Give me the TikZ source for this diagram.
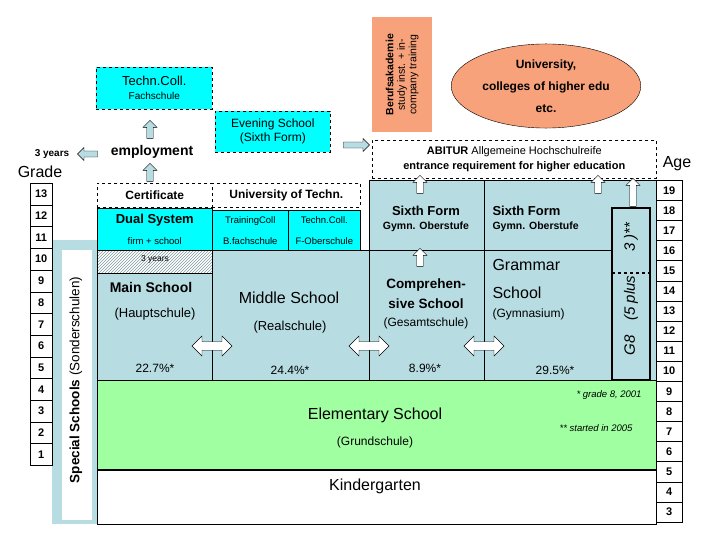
\documentclass[tikz,border=0pt]{standalone}
\usepackage{fontspec}
\setmainfont{Liberation Sans}
\usetikzlibrary{shapes.arrows,shapes.geometric,patterns}
\definecolor{lb}{HTML}{B7DDE3}
\definecolor{cy}{HTML}{00FFFF}
\definecolor{gr}{HTML}{A0FFA0}
\definecolor{org}{HTML}{F7A27B}
\definecolor{arr}{HTML}{B7DDE3}
\begin{document}
\begin{tikzpicture}[x=1pt,y=-1pt,
 box/.style={draw,line width=0.6pt},
 dbox/.style={draw,dashed,line width=0.6pt},
 upar/.style={single arrow,draw,fill=white,rotate=90,minimum height=18pt,minimum width=14pt,single arrow head extend=2pt,inner sep=1.5pt},
 dar/.style={double arrow,draw,fill=white,minimum height=40pt,minimum width=20pt,double arrow head extend=3pt,inner sep=2pt},
 t/.style={font=\fontsize{12}{14}\selectfont,align=center},
 agecell/.style={draw,minimum width=26pt,font=\fontsize{11}{12}\selectfont\rmfamily\bfseries,inner sep=0pt}]
\useasboundingbox (0,0) rectangle (720,540);
% top
\node[dbox,fill=cy,minimum width=116pt,minimum height=42pt,t,anchor=north west] (tc) at (96,67) {\fontsize{13}{17}\selectfont Techn.Coll.\\\fontsize{10}{12}\selectfont Fachschule};
\node[dbox,fill=cy,minimum width=115pt,minimum height=41pt,t,anchor=north west] (ev) at (215,111) {Evening School\\(Sixth Form)};
\node[fill=org,minimum width=60pt,minimum height=115pt,anchor=north west] (ba) at (372,17) {};
\node[rotate=90,align=center,font=\fontsize{10.5}{11.5}\selectfont] (bat) at (ba.center) {\textbf{Berufsakademie}\\study inst. + in-\\company training};
\node[ellipse,draw,fill=org,minimum width=152pt,minimum height=76pt,align=center,font=\fontsize{12}{22}\selectfont\bfseries] (uni) at (546,86) {University,\\colleges of higher edu\\etc.};
\node[font=\fontsize{14}{16}\selectfont\bfseries] (emp) at (152,152) {employment};
\node[font=\fontsize{10}{11}\selectfont\bfseries] (y3) at (52,154) {3 years};
\node[single arrow,draw,fill=arr,shape border rotate=180,minimum height=20pt,minimum width=13pt,inner sep=1.5pt,single arrow head extend=2pt] (a1) at (89,154) {};
\node[upar,fill=arr] (a2) at (150,131) {};
\node[upar,fill=arr] (a3) at (150,174) {};
\node[single arrow,draw,fill=arr,minimum height=26pt,minimum width=13pt,inner sep=1.5pt,single arrow head extend=2pt] (a4) at (355,145) {};
\node[dbox,minimum width=284pt,minimum height=38pt,anchor=north west,align=center,font=\fontsize{11}{15}\selectfont] (ab) at (372,140) {\textbf{ABITUR} Allgemeine Hochschulreife\\\textbf{entrance requirement for higher education}};
\node[font=\fontsize{16}{18}\selectfont] (grade) at (40,172) {Grade};
\node[font=\fontsize{16}{18}\selectfont] (age) at (677,164) {Age};
% special schools
\fill[lb] (52,240) rectangle (97,524);
\fill[white] (62,250) rectangle (92,520);
\node[rotate=90,font=\fontsize{13.5}{15}\selectfont] (ss) at (76,380) {\textbf{Special Schools} (Sonderschulen)};
% right block background
\node[box,fill=lb,minimum width=287pt,minimum height=202pt,anchor=north west] (rb) at (369,180) {};
\draw (484,180) -- (484,382);
\draw (369,250) -- (612,250);
% left structure
\node[dbox,minimum width=115pt,minimum height=24pt,anchor=north west,font=\fontsize{12}{14}\selectfont\bfseries] (cert) at (97,183) {Certificate};
\node[dbox,minimum width=148pt,minimum height=24pt,anchor=north west,font=\fontsize{12}{14}\selectfont\bfseries] (ut) at (212,183) {University of Techn.};
\node[box,fill=cy,minimum width=115pt,minimum height=42pt,anchor=north west,align=center,font=\fontsize{13}{21}\selectfont\bfseries] (ds) at (97,208) {Dual System\\\fontsize{9.5}{10}\selectfont\mdseries firm + school};
\node[box,fill=cy,minimum width=76pt,minimum height=40pt,anchor=north west,align=center,font=\fontsize{9.5}{21}\selectfont] (tr) at (212,210) {TrainingColl\\B.fachschule};
\node[box,fill=cy,minimum width=72pt,minimum height=40pt,anchor=north west,align=center,font=\fontsize{9.5}{21}\selectfont] (tc2) at (288,210) {Techn.Coll.\\F-Oberschule};
\node[box,pattern=north east lines,pattern color=lb!70!black,minimum width=115pt,minimum height=23pt,anchor=north west] (hy) at (97,250) {};
\node[font=\fontsize{8.5}{9}\selectfont,anchor=north] (hyt) at (155,252) {3 years};
\node[box,fill=lb,minimum width=115pt,minimum height=107pt,anchor=north west] (ms) at (97,273) {};
\node[box,fill=lb,minimum width=157pt,minimum height=130pt,anchor=north west] (mid) at (212,250) {};
\node[font=\fontsize{14}{16}\selectfont\bfseries] (mst) at (151,287) {Main School};
\node[font=\fontsize{13}{15}\selectfont] (msp) at (155,314) {(Hauptschule)};
\node[font=\fontsize{16}{18}\selectfont] (midt) at (289,298) {Middle School};
\node[font=\fontsize{13}{15}\selectfont] (midp) at (290,327) {(Realschule)};
\node[font=\fontsize{13}{15}\selectfont\bfseries] (sf1) at (426,211) {Sixth Form};
\node[font=\fontsize{10.5}{12}\selectfont\bfseries] (sf1b) at (426,227) {Gymn. Oberstufe};
\node[font=\fontsize{13}{15}\selectfont\bfseries,anchor=west] (sf2) at (489,211) {Sixth Form};
\node[font=\fontsize{10.5}{12}\selectfont\bfseries,anchor=west] (sf2b) at (489,227) {Gymn. Oberstufe};
\node[font=\fontsize{13.5}{20}\selectfont\bfseries,align=center] (cs) at (426,294) {Comprehen-\\sive School};
\node[font=\fontsize{12}{14}\selectfont] (csp) at (426,323) {(Gesamtschule)};
\node[font=\fontsize{16}{28}\selectfont,align=left,anchor=west] (gs) at (489,279) {Grammar\\School};
\node[font=\fontsize{12}{14}\selectfont,anchor=west] (gsp) at (489,314) {(Gymnasium)};
% G8
\draw[line width=1.2pt] (612,208) rectangle (650,380);
\draw[line width=1.2pt,dashed] (612,273) -- (650,273);
\node[rotate=90,font=\fontsize{15}{17}\selectfont\itshape] (g8) at (631,289) {G8\quad(5 plus\hspace{24pt}3 )**};
% percentages
\node[font=\fontsize{12}{14}\selectfont] (p1) at (155,368) {22.7\%*};
\node[font=\fontsize{12}{14}\selectfont] (p2) at (290,370) {24.4\%*};
\node[font=\fontsize{12}{14}\selectfont] (p3) at (425,368) {8.9\%*};
\node[font=\fontsize{12}{14}\selectfont] (p4) at (555,370) {29.5\%*};
\node[dar] (d1) at (212,346) {};
\node[dar] (d2) at (369,346) {};
\node[dar] (d3) at (484,346) {};
\node[upar] (u1) at (420,186) {};
\node[upar] (u2) at (598,186) {};
\node[upar,minimum height=28pt] (u3) at (633,194) {};
\node[upar] (u4) at (420,259) {};
% elementary
\node[box,fill=gr,minimum width=559pt,minimum height=90pt,anchor=north west,line width=1.2pt] (el) at (97,380) {};
\node[box,fill=white,minimum width=559pt,minimum height=54pt,anchor=north west] (kg) at (97,470) {};
\draw[line width=1.2pt] (97,470) -- (656,470);
\node[font=\fontsize{16}{18}\selectfont] (elt) at (375,415) {Elementary School};
\node[font=\fontsize{12}{14}\selectfont] (elp) at (375,442) {(Grundschule)};
\node[font=\fontsize{16}{18}\selectfont] (kgt) at (375,486) {Kindergarten};
\node[font=\fontsize{9.5}{11}\selectfont\itshape,anchor=east] (f1) at (645,395) {* grade 8, 2001};
\node[font=\fontsize{9.5}{11}\selectfont\itshape,anchor=east] (f2) at (636,428) {** started in 2005};
% grade column
\foreach \g [count=\i from 0] in {13,12,...,1}{
 \node[agecell,minimum width=22pt,minimum height=21.7pt,anchor=north west] (gc\g) at (30,183+21.7*\i) {\g};
}
% age column
\foreach \a [count=\i from 0] in {19,18,...,3}{
 \node[agecell,minimum height=20.1pt,anchor=north west] (ac\a) at (656,180+20.1*\i) {\a};
}
\end{tikzpicture}
\end{document}
